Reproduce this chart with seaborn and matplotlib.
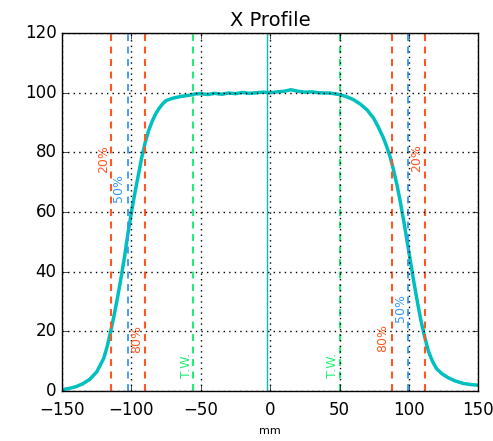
import numpy as np
import pandas as pd
import matplotlib
matplotlib.use("Agg")
import matplotlib.pyplot as plt
import seaborn as sns

# profile (mm, relative dose %)
pos = [-150, -145, -140, -135, -130, -125, -120, -117.5, -115, -112.5, -110, -107.5,
       -105, -102.5, -100, -97.5, -95, -92.5, -90, -87.5, -85, -82.5, -80, -77.5, -75,
       -70, -64, -58, -54, -50, -45, -40, -35, -30, -25, -20, -15, -10, -5,
       0, 5, 10, 15, 20, 25, 30, 35, 40, 43, 50, 55, 60, 65, 70, 74.5, 78, 81.5, 84,
       86.5, 89, 91.5, 94, 96.5, 99, 101.5, 104, 106.5, 109, 111.5, 114, 117, 120,
       124, 128, 133, 139, 145, 150]
dose = [0.5, 0.9, 1.5, 2.5, 4.0, 6.5, 11.0, 15.0, 20.0, 25.5, 31.5, 38.0,
        45.0, 53.0, 60.0, 66.5, 72.5, 78.5, 83.5, 87.5, 90.5, 93.0, 94.8, 96.3, 97.4,
        98.2, 98.8, 99.2, 99.6, 99.7, 99.4, 99.8, 99.5, 99.9, 99.7, 100.1, 99.8, 100.0, 100.2,
        100.0, 100.3, 100.5, 101.0, 100.5, 100.2, 100.3, 100.0, 99.9, 99.9, 99.4, 98.7,
        97.7, 96.2, 94.2, 91.5, 88.5, 85.0, 82.0,
        78.5, 74.0, 69.0, 63.0, 56.5, 49.5, 42.5, 35.5, 29.0, 23.0, 18.0, 13.5, 10.0, 7.5,
        5.8, 4.6, 3.5, 2.6, 2.2, 2.0]

# marker lines
p20 = [-114.8, 111.5]
p50 = [-102.5, 99.5]
p80 = [-90.0, 88.0]
tw = [-55.3, 50.4]
center = -2.2

red = "#ff5722"
blue = "#3399ff"
green = "#22ee77"

plt.style.use("classic")
fig = plt.figure(figsize=(4.93, 4.41), dpi=100, facecolor="white")
ax = fig.add_axes([0.126, 0.113, 0.844, 0.812])

df = pd.DataFrame({"mm": pos, "dose": dose})
sns.lineplot(data=df, x="mm", y="dose", ax=ax, color="c", linewidth=2.5)

for x in p20 + p80:
    ax.axvline(x, color=red, linestyle="--", dashes=(5, 4), linewidth=1.5)
for x in p50:
    ax.axvline(x, color=blue, linestyle="--", dashes=(5, 4), linewidth=1.3)
for x in tw:
    ax.axvline(x, color=green, linestyle="--", dashes=(5, 4), linewidth=1.5)
ax.axvline(center, color="c", linewidth=1)

fs = 9
labels = [(-120.2, 77.7, "20%", red), (-109.4, 68, "50%", blue),
          (-96.1, 17.4, "80%", red), (-60.6, 8.6, "T.W.", green),
          (105.7, 78, "20%", red), (93.7, 28, "50%", blue),
          (81.2, 17.8, "80%", red), (45.2, 8.7, "T.W.", green)]
for x, y, s, col in labels:
    ax.text(x, y, s, color=col, rotation=90, fontsize=fs, ha="center", va="center")

ax.set_xlim(-150, 150)
ax.set_ylim(0, 120)
ax.set_xticks([-150, -100, -50, 0, 50, 100, 150])
ax.set_yticks([0, 20, 40, 60, 80, 100, 120])
ax.tick_params(axis="x", pad=7)
ax.grid(True, color="black", linestyle=":", linewidth=1)
ax.set_title("X Profile", fontsize=14)
ax.set_xlabel("mm", fontsize=8)
ax.set_ylabel("")

fig.savefig("out.png", dpi=100, facecolor="white")
